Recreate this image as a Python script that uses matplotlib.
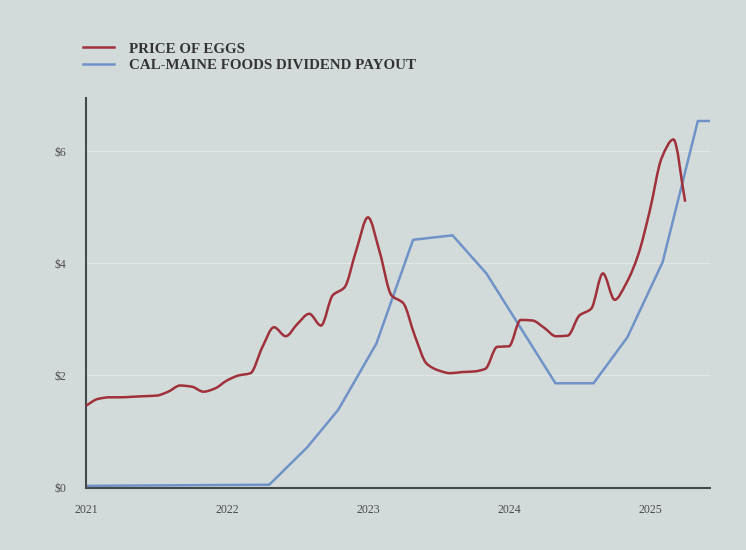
import numpy as np
import matplotlib.pyplot as plt
from matplotlib.path import Path
from matplotlib.patches import PathPatch

# egg price, monthly from Jan 2021 to Apr 2025 ($ per dozen)
egg_price = [1.46, 1.58, 1.61, 1.61, 1.62, 1.63, 1.64, 1.71, 1.82, 1.80, 1.71, 1.77,
             1.91, 2.00, 2.04, 2.50, 2.86, 2.70, 2.92, 3.10, 2.89, 3.43, 3.57, 4.23,
             4.82, 4.20, 3.43, 3.29, 2.70, 2.21, 2.09, 2.04, 2.06, 2.07, 2.12, 2.51,
             2.52, 2.99, 2.98, 2.85, 2.70, 2.71, 3.07, 3.19, 3.82, 3.35, 3.65, 4.15,
             4.95, 5.88, 6.21, 5.10]
egg_x = [2021 + i / 12 for i in range(len(egg_price))]

# Cal-Maine dividend payout
div_x = [2021.0, 2022.30, 2022.57, 2022.79, 2023.06, 2023.32, 2023.60, 2023.84,
         2024.33, 2024.60, 2024.84, 2025.09, 2025.34, 2025.42]
div_val = [0.03, 0.05, 0.72, 1.39, 2.57, 4.42, 4.50, 3.82,
           1.86, 1.86, 2.68, 4.02, 6.54, 6.54]

year_ticks = [2021, 2022, 2023, 2024, 2025]
dollar_ticks = [0, 2, 4, 6]

RED = '#a0303a'
BLUE = '#6f93c8'
BG = '#d3dbda'


def monotone_path(x, y):
    # smooth line through the points (monotone cubic, like d3 curveMonotoneX)
    x = np.asarray(x, float)
    y = np.asarray(y, float)
    h = np.diff(x)
    d = np.diff(y) / h
    m = np.zeros(len(x))
    m[0], m[-1] = d[0], d[-1]
    for i in range(1, len(x) - 1):
        if d[i - 1] * d[i] <= 0:
            m[i] = 0
        else:
            w1 = 2 * h[i] + h[i - 1]
            w2 = h[i] + 2 * h[i - 1]
            m[i] = (w1 + w2) / (w1 / d[i - 1] + w2 / d[i])
    verts = [(x[0], y[0])]
    codes = [Path.MOVETO]
    for i in range(len(x) - 1):
        verts += [(x[i] + h[i] / 3, y[i] + m[i] * h[i] / 3),
                  (x[i + 1] - h[i] / 3, y[i + 1] - m[i + 1] * h[i] / 3),
                  (x[i + 1], y[i + 1])]
        codes += [Path.CURVE4] * 3
    return Path(verts, codes)


fig = plt.figure(figsize=(7.46, 5.5), dpi=100, facecolor=BG)
ax = fig.add_axes([0.1153, 0.1136, 0.8364, 0.7082])
ax.set_facecolor(BG)

ax.add_patch(PathPatch(monotone_path(egg_x, egg_price), facecolor='none',
                       edgecolor=RED, lw=1.8, zorder=3))
ax.plot(div_x, div_val, color=BLUE, lw=1.8, zorder=2)

ax.set_xlim(2021, 2025.426)
ax.set_ylim(0, 6.95)
ax.set_xticks(year_ticks)
ax.set_xticklabels([str(t) for t in year_ticks])
ax.set_yticks(dollar_ticks)
ax.set_yticklabels(['$%d' % t for t in dollar_ticks])
ax.tick_params(length=0, labelsize=8.5, labelcolor='#4a4a4a')
ax.tick_params(axis='y', pad=14)
ax.tick_params(axis='x', pad=12)
for lab in ax.get_xticklabels() + ax.get_yticklabels():
    lab.set_family('Liberation Serif')
ax.grid(axis='y', color='#e1e7e6', lw=0.8)
ax.set_axisbelow(True)

ax.spines['right'].set_color('none')
ax.spines['top'].set_color('none')
ax.spines['left'].set_color('#454a4a')
ax.spines['bottom'].set_color('#454a4a')
ax.spines['left'].set_linewidth(1.5)
ax.spines['bottom'].set_linewidth(1.5)

# legend at the top
ax.plot([], [], color=RED, lw=1.8, label='PRICE OF EGGS')
ax.plot([], [], color=BLUE, lw=1.8, label='CAL-MAINE FOODS DIVIDEND PAYOUT')
handles, labels = ax.get_legend_handles_labels()
fig.legend(handles, labels, loc='upper left', bbox_to_anchor=(0.093, 0.948),
           frameon=False, handlelength=2.1, handletextpad=1.0, labelspacing=0.18,
           prop={'family': 'Liberation Serif', 'weight': 'bold', 'size': 10.8},
           labelcolor='#333333')

plt.savefig('out.png', dpi=100, facecolor=BG)
